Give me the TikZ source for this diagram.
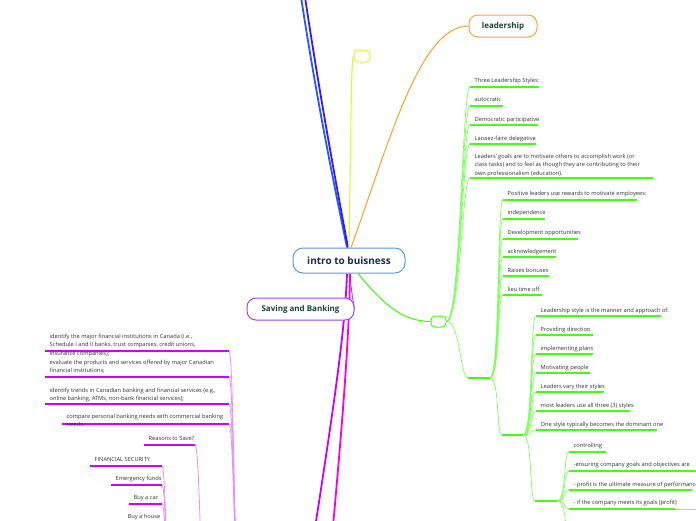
\documentclass[tikz,border=0pt]{standalone}
\usepackage{fontspec}
\setmainfont{Open Sans}
\usetikzlibrary{calc}
\pgfdeclarelayer{background}
\pgfsetlayers{background,main}
\definecolor{txtc}{HTML}{333333}
\definecolor{hubline}{HTML}{5A9BD8}
\definecolor{hubtext}{HTML}{1B2A55}
\definecolor{titletext}{HTML}{17443A}
\definecolor{orangeb}{HTML}{FFA533}
\definecolor{yellowb}{HTML}{DDF53C}
\definecolor{greenb}{HTML}{44FF11}
\definecolor{greenl}{HTML}{7CFF5A}
\definecolor{blueb}{HTML}{1E5CFF}
\definecolor{indigob}{HTML}{3D16FF}
\definecolor{violetb}{HTML}{C400FF}
\definecolor{pinkb}{HTML}{FF00D4}
\definecolor{purplen}{HTML}{9D45FF}
\definecolor{magul}{HTML}{D000FF}
\definecolor{magl}{HTML}{E88CFF}
\tikzset{
  hub/.style={draw=hubline, line width=1pt, fill=white, rounded corners=10pt,
    minimum width=112pt, minimum height=25pt, inner sep=0pt,
    font=\fontsize{10}{12}\selectfont\bfseries, text=hubtext},
  title/.style={fill=white, line width=1pt, rounded corners=9pt,
    minimum width=68pt, minimum height=22pt, inner sep=0pt,
    font=\fontsize{8}{10}\selectfont\bfseries, text=titletext},
  emptyb/.style={fill=white, line width=1pt, rounded corners=4pt, inner sep=0pt},
  tx/.style={font=\fontsize{5.7}{8.5}\selectfont, text=txtc, inner sep=0pt,
    align=left, execute at begin node=\rule{0pt}{5pt}},
  gul/.style={draw=greenb, line width=1.6pt},
  gconn/.style={draw=greenl, line width=0.7pt},
  mul/.style={draw=magul, line width=1.6pt},
  mconn/.style={draw=magl, line width=0.8pt},
  mainbr/.style={line width=1.1pt},
  thickbr/.style={line width=1.8pt},
}
\newcommand\topic[7][4.6]{%
  \coordinate (#2w) at (#3,#5);
  \coordinate (#2e) at (#4,#5);
  \draw[#6] (#2w) -- (#2e);
  \node[tx, anchor=north west, xshift=4.5pt, yshift={#1pt+5pt}] (#2) at (#2w) {#7};}
\newcommand\etopic[5]{%
  \coordinate (#1w) at (#2,#4);
  \coordinate (#1e) at (#3,#4);
  \draw[#5] (#1w) -- (#1e);}
\begin{document}
\begin{tikzpicture}[x=1pt,y=-1pt]
\useasboundingbox (0,0) rectangle (696,520);
\clip (0,0) rectangle (696,520);

% main nodes
\node[hub] (hub) at (349,260.5) {intro to buisness};
\node[title, draw=orangeb] (lead) at (503,26) {leadership};
\node[title, draw=purplen, minimum width=107pt] (saving) at (300.5,309) {Saving and Banking};
\node[emptyb, draw=yellowb, minimum width=16pt, minimum height=12pt] (ynode) at (362,56) {};
\node[emptyb, draw=greenb, minimum width=15pt, minimum height=11pt] (gnode) at (438.5,321.5) {};

% off-canvas ends
\coordinate (blueEnd) at (297,-30);
\coordinate (indigoEnd) at (301,-30);
\coordinate (violetEnd) at (310,560);
\coordinate (pinkEnd) at (328,580);

% leadership subtree, level 1
\topic{a1}{470}{539}{87}{gul}{Three Leadership Styles:}
\topic{a2}{470}{503}{106}{gul}{autocratic}
\topic[4.1]{a3}{470}{538}{125}{gul}{Democratic participative}
\topic[4.1]{a4}{470}{536}{144}{gul}{Laissez-faire delegative}
\topic[19.3]{a5}{470}{653}{178}{gul}{Leaders' goals are to motivate others to accomplish work (or\\class tasks) and to feel as though they are contributing to their\\own professionalism (education).}
\etopic{a6}{468}{490}{378}{gul}
% level 2
\topic{b1}{503}{637}{200}{gul}{Positive leaders use rewards to motivate employees:}
\topic{b2}{503}{545}{219}{gul}{independence}
\topic[5.1]{b3}{503}{578}{239}{gul}{Development opportunities}
\topic[4.1]{b4}{503}{556}{257}{gul}{acknowledgement}
\topic[4.1]{b5}{503}{549}{276}{gul}{Raises bonuses}
\topic[4.1]{b6}{503}{542}{295}{gul}{lieu time off}
\etopic{b7}{502}{523}{435}{gul}
% level 3
\topic[4.1]{c1}{536}{661}{316}{gul}{Leadership style is the manner and approach of:}
\topic[4.1]{c2}{536}{593}{335}{gul}{Providing direction}
\topic[4.1]{c3}{536}{593}{354}{gul}{implementing plans}
\topic[4.1]{c4}{536}{590}{373}{gul}{Motivating people}
\topic[4.1]{c5}{536}{604}{392}{gul}{Leaders vary their styles}
\topic[4.1]{c6}{536}{630}{411}{gul}{most leaders use all three (3) styles}
\topic[4.1]{c7}{536}{657}{430}{gul}{One style typically becomes the dominant one}
\etopic{c8}{535}{557}{501}{gul}
% level 4
\topic{d1}{569}{606}{452}{gul}{controlling}
\topic{d2}{569}{720}{471}{gul}{-ensuring company goals and objectives are}
\topic[4.1]{d3}{569}{692}{490}{gul}{- profit is the ultimate measure of performance}
\topic{d4}{569}{675}{509}{gul}{- if the company meets its goals (profit)}
\etopic{d5}{569}{640}{528}{gul}
\coordinate (d4x) at (720,509);

% saving subtree (left)
\topic[12.2]{L1}{45}{229}{351}{mul}{identify the major financial institutions in Canada (i.e.,\\Schedule I and II banks, trust companies, credit unions,\\insurance companies);}
\topic[12.5]{L2}{45}{229}{377}{mul}{evaluate the products and services offered by major Canadian\\financial institutions;}
\topic[11.2]{L3}{45}{229}{404}{mul}{identify trends in Canadian banking and financial services (e.g.,\\online banking, ATMs, non-bank financial services);}
\topic[5.2]{L4}{62}{229}{424}{mul}{compare personal banking needs with commercial banking\\needs.}
\coordinate (Lpar) at (240,600);
\topic{R1}{144}{195}{445}{mul}{Reasons to Save?}
\coordinate (Rpar) at (206,600);
\topic{F1}{90}{162}{466}{mul}{FINANCIAL SECURITY}
\topic{F2}{111}{162}{485}{mul}{Emergency funds}
\topic{F3}{129}{162}{504}{mul}{Buy a car}
\topic{F4}{123}{162}{523}{mul}{Buy a house}
\coordinate (Fpar) at (172,600);

\begin{pgfonlayer}{background}
  % branches from the central topic
  \draw[thickbr, blueb] ([xshift=-2pt]hub.north) .. controls (331,170) and (313,80) .. (blueEnd);
  \draw[thickbr, indigob] ([xshift=-1pt]hub.north) .. controls (333.5,170) and (317,80) .. (indigoEnd);
  \draw[mainbr, yellowb] (hub.north) .. controls (351,140) and (351,56) .. (ynode.west);
  \draw[mainbr, orangeb] ([xshift=2pt]hub.north) .. controls (390,140) and (420,26) .. (lead.west);
  \draw[mainbr, greenb] ([xshift=9pt]hub.south) .. controls (380,300) and (400,321.5) .. (gnode.west);
  \draw[line width=0.9pt, purplen] ([xshift=1pt]hub.south) .. controls (351,290) and (353,300) .. (saving.east);
  \draw[thickbr, violetb] ([xshift=-2pt]hub.south) .. controls (345,330) and (335,400) .. (violetEnd);
  \draw[thickbr, pinkb] ([xshift=1pt]hub.south) .. controls (349,340) and (343,420) .. (pinkEnd);
  % leadership subtree connectors
  \foreach \c in {a1,a2,a3,a4,a5,a6}
    \draw[gconn] (gnode.east) .. controls +(14,0) and +(-8,0) .. (\c w);
  \foreach \c in {b1,b2,b3,b4,b5,b6,b7}
    \draw[gconn] (a6e) .. controls +(10,0) and +(-6,0) .. (\c w);
  \foreach \c in {c1,c2,c3,c4,c5,c6,c7,c8}
    \draw[gconn] (b7e) .. controls +(10,0) and +(-6,0) .. (\c w);
  \foreach \c in {d1,d2,d3,d4,d5}
    \draw[gconn] (c8e) .. controls +(10,0) and +(-6,0) .. (\c w);
  \draw[gconn] (d4e) -- (d4x);
  % saving subtree connectors
  \foreach \c in {L1,L2,L3,L4}
    \draw[mconn] (\c e) .. controls +(5,0) and +(-6,0) .. (Lpar);
  \draw[mconn] (R1e) .. controls +(5,0) and +(-6,0) .. (Rpar);
  \foreach \c in {F1,F2,F3,F4}
    \draw[mconn] (\c e) .. controls +(4,0) and +(-6,0) .. (Fpar);
\end{pgfonlayer}
\end{tikzpicture}
\end{document}
